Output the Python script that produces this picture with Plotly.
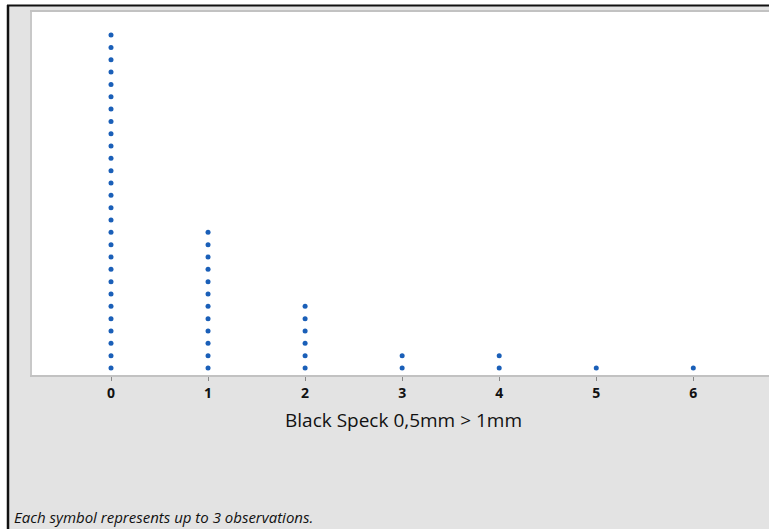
import plotly.graph_objects as go

# Dotplot of black speck counts (0.5mm > 1mm); each symbol stands for up to 3 observations
speck_values = [0, 1, 2, 3, 4, 5, 6]
symbol_counts = [28, 12, 6, 2, 2, 1, 1]
tick_labels = ["0", "1", "2", "3", "4", "5", "6"]
x_title = "Black Speck 0,5mm > 1mm"
footnote = "Each symbol represents up to 3 observations."

# Stack the symbols for each value
xs, ys = [], []
for v, n in zip(speck_values, symbol_counts):
    for k in range(1, n + 1):
        xs.append(v)
        ys.append(k)

W, H = 769, 529
L, R, T, B = 32, 0, 12, 154
pw, ph = W - L - R, H - T - B


def px_x(p):
    return (p - L) / pw


def px_y(p):
    return (H - B - p) / ph


fig = go.Figure()
fig.add_trace(go.Scatter(
    x=xs, y=ys, mode="markers",
    marker=dict(color="#1a5fb8", size=5, line=dict(width=0)),
    hoverinfo="x", showlegend=False,
))

gray_bg = "#e3e3e3"
shapes = [
    # white margin outside the window frame
    dict(type="rect", xref="paper", yref="paper", x0=px_x(-5), x1=px_x(8), y0=px_y(540), y1=px_y(-5),
         fillcolor="white", line=dict(width=0), layer="below"),
    dict(type="rect", xref="paper", yref="paper", x0=px_x(-5), x1=px_x(780), y0=px_y(5), y1=px_y(-5),
         fillcolor="white", line=dict(width=0), layer="below"),
    # dark window frame
    dict(type="line", xref="paper", yref="paper", x0=px_x(8), x1=px_x(8), y0=px_y(5), y1=px_y(540),
         line=dict(color="#111111", width=2.5)),
    dict(type="line", xref="paper", yref="paper", x0=px_x(7), x1=px_x(780), y0=px_y(5.5), y1=px_y(5.5),
         line=dict(color="#111111", width=2)),
]

fig.update_layout(
    width=W, height=H,
    margin=dict(l=L, r=R, t=T, b=B),
    paper_bgcolor=gray_bg,
    plot_bgcolor="white",
    shapes=shapes,
    xaxis=dict(
        range=[-0.814, 6.78],
        tickmode="array", tickvals=speck_values, ticktext=tick_labels,
        showgrid=False, zeroline=False,
        showline=True, linecolor="#c2c2c2", linewidth=2, mirror=True,
        ticks="outside", ticklen=4, tickwidth=1, tickcolor="#8a8a8a",
        tickfont=dict(family="Open Sans", size=14, color="#111111", weight="bold"),
    ),
    yaxis=dict(
        range=[0.432, 29.87],
        showticklabels=False, showgrid=False, zeroline=False,
        showline=True, linecolor="#c8c8c8", linewidth=2, ticks="",
    ),
    annotations=[
        dict(text=x_title, xref="paper", yref="paper", x=px_x(403), y=px_y(420),
             xanchor="center", yanchor="middle", showarrow=False,
             font=dict(family="Open Sans", size=19, color="#111111")),
        dict(text="<i>" + footnote + "</i>", xref="paper", yref="paper", x=px_x(12), y=px_y(517),
             xanchor="left", yanchor="middle", showarrow=False,
             font=dict(family="Open Sans", size=15, color="#111111")),
    ],
)

fig.write_html("out.html")
